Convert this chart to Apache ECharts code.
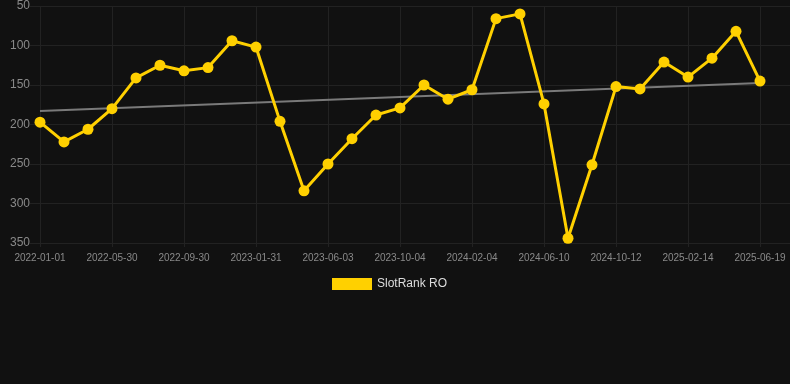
<!DOCTYPE html>
<html>
<head>
<meta charset="utf-8">
<script src="https://cdn.jsdelivr.net/npm/echarts@6/dist/echarts.min.js"></script>
<style>
    html, body { margin: 0; padding: 0; background: #111111; }
    #chart { width: 790px; height: 384px; }
</style>
</head>
<body>
<div id="chart"></div>
<script>
    // dates (x categories)
    var dates = [
        '2022-01-01', '2022-02-19', '2022-04-10', '2022-05-30', '2022-07-10', '2022-08-20',
        '2022-09-30', '2022-11-10', '2022-12-21', '2023-01-31', '2023-03-13', '2023-04-23',
        '2023-06-03', '2023-07-14', '2023-08-24', '2023-10-04', '2023-11-14', '2023-12-25',
        '2024-02-04', '2024-03-16', '2024-04-28', '2024-06-10', '2024-07-21', '2024-09-01',
        '2024-10-12', '2024-11-22', '2025-01-03', '2025-02-14', '2025-03-27', '2025-05-08',
        '2025-06-19'
    ];
    // rank values
    var rank = [
        197, 222, 206, 180, 141, 125, 132, 128, 94, 102,
        196, 284, 250, 218, 188, 179, 150, 168, 156, 66,
        60, 174, 344, 251, 152, 155, 121, 140, 116, 82,
        145
    ];
    var yMin = 50, yMax = 350, yStep = 50;

    // linear trend (least squares)
    var n = rank.length, sx = 0, sy = 0, sxy = 0, sxx = 0;
    for (var i = 0; i < n; i++) {
        sx += i; sy += rank[i]; sxy += i * rank[i]; sxx += i * i;
    }
    var slope = (n * sxy - sx * sy) / (n * sxx - sx * sx);
    var icpt = (sy - slope * sx) / n;
    var trend = rank.map(function (v, i) {
        return (i === 0 || i === n - 1) ? +(icpt + slope * i).toFixed(2) : '-';
    });

    var gridColor = '#222222';
    var labelColor = '#8a8a8a';

    var chart = echarts.init(document.getElementById('chart'));
    var option = {
        backgroundColor: '#111111',
        animation: false,
        legend: {
            data: ['SlotRank RO'],
            top: 273,
            left: 327,
            itemWidth: 40,
            itemHeight: 12,
            icon: 'rect',
            textStyle: { color: '#dddddd', fontSize: 12, fontFamily: 'Liberation Sans, Arial, sans-serif' }
        },
        grid: [
            { left: 40, right: 30, top: 6, bottom: 141 },
            { left: 30, right: 0, top: 6, bottom: 141 }
        ],
        xAxis: [{
            type: 'category',
            gridIndex: 0,
            data: dates,
            boundaryGap: false,
            axisLine: { show: false },
            axisTick: { show: true, interval: 2, length: 4, lineStyle: { color: gridColor } },
            axisLabel: {
                interval: 2,
                color: labelColor,
                fontSize: 10,
                margin: 10,
                fontFamily: 'Liberation Sans, Arial, sans-serif'
            },
            splitLine: { show: true, interval: 2, lineStyle: { color: gridColor, width: 1 } }
        }, {
            type: 'value',
            gridIndex: 1,
            show: false
        }],
        yAxis: [{
            type: 'value',
            gridIndex: 0,
            inverse: true,
            min: yMin,
            max: yMax,
            interval: yStep,
            axisLine: { show: false },
            axisTick: { show: false },
            axisLabel: {
                color: labelColor,
                fontSize: 12,
                margin: 10,
                fontFamily: 'Liberation Sans, Arial, sans-serif'
            },
            splitLine: { show: false }
        }, {
            type: 'value',
            gridIndex: 1,
            inverse: true,
            min: yMin,
            max: yMax,
            interval: yStep,
            axisLine: { show: false },
            axisTick: { show: false },
            axisLabel: { show: false },
            splitLine: { show: true, lineStyle: { color: gridColor, width: 1 } }
        }],
        series: [{
            name: 'trend',
            type: 'line',
            data: trend,
            connectNulls: true,
            symbol: 'none',
            lineStyle: { color: '#7a7a7a', width: 2 },
            z: 1
        }, {
            name: 'SlotRank RO',
            type: 'line',
            data: rank,
            symbol: 'circle',
            symbolSize: 11,
            itemStyle: { color: '#ffd000' },
            lineStyle: { color: '#ffd000', width: 3 },
            z: 2
        }]
    };
    chart.setOption(option);
</script>
</body>
</html>
